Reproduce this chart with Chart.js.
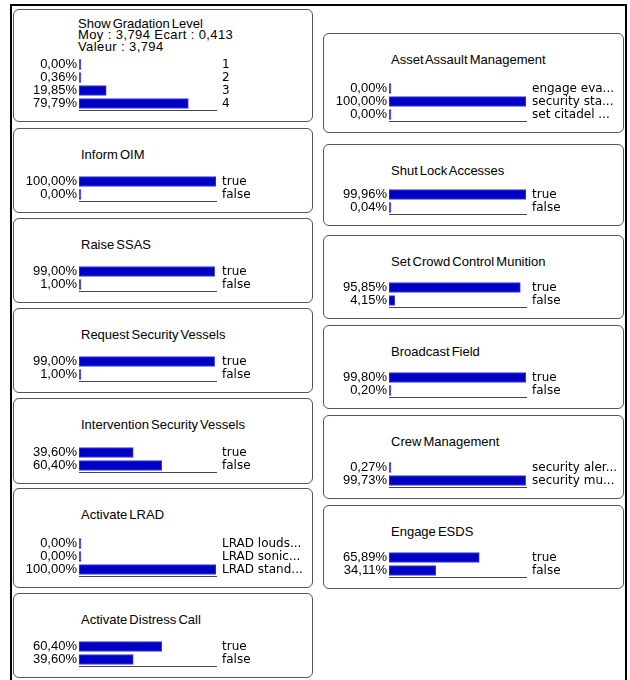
<!DOCTYPE html>
<html>
<head>
<meta charset="utf-8">
<script src="https://cdn.jsdelivr.net/npm/chart.js@4.4.0/dist/chart.umd.min.js"></script>
<style>
body{margin:0;background:#fff;width:630px;height:680px;overflow:hidden;position:relative;font-family:"Liberation Sans",Arial,sans-serif}
#frame{position:absolute;left:10px;top:4px;width:613px;height:700px;border:2px solid #000;border-bottom:none}
.panel{position:absolute;border:1px solid #555;border-radius:6px;box-sizing:border-box}
.title{position:absolute;font-size:13px;line-height:12px;word-spacing:-1.5px;white-space:nowrap;color:#000}
.info{word-spacing:0;letter-spacing:0.4px}
canvas{position:absolute}
</style>
</head>
<body>
<div id="frame"></div>
<script>
// node names, one per monitor
const titles = [
    "Show Gradation Level", "Inform OIM", "Raise SSAS", "Request Security Vessels",
    "Intervention Security Vessels", "Activate LRAD", "Activate Distress Call",
    "Asset Assault Management", "Shut Lock Accesses", "Set Crowd Control Munition",
    "Broadcast Field", "Crew Management", "Engage ESDS"
];

// states of each node (as shown, truncated)
const states = [
    ["1", "2", "3", "4"],
    ["true", "false"],
    ["true", "false"],
    ["true", "false"],
    ["true", "false"],
    ["LRAD louds...", "LRAD sonic...", "LRAD stand..."],
    ["true", "false"],
    ["engage eva...", "security sta...", "set citadel ..."],
    ["true", "false"],
    ["true", "false"],
    ["true", "false"],
    ["security aler...", "security mu..."],
    ["true", "false"]
];

// probabilities in %
const values = [
    [0.00, 0.36, 19.85, 79.79],
    [100.00, 0.00],
    [99.00, 1.00],
    [99.00, 1.00],
    [39.60, 60.40],
    [0.00, 0.00, 100.00],
    [60.40, 39.60],
    [0.00, 100.00, 0.00],
    [99.96, 0.04],
    [95.85, 4.15],
    [99.80, 0.20],
    [0.27, 99.73],
    [65.89, 34.11]
];

// extra lines under the first title
const gradationInfo = ["Moy : 3,794 Ecart : 0,413", "Valeur : 3,794"];

// panel boxes: x, y, w, h
const boxes = [
    [13, 9, 300, 113], [13, 128, 300, 85], [13, 218, 300, 85], [13, 308, 300, 85],
    [13, 398, 300, 86], [13, 488, 300, 100], [13, 593, 300, 85],
    [323, 33, 301, 100], [323, 144, 301, 82], [323, 235, 301, 84],
    [323, 325, 301, 84], [323, 415, 301, 84], [323, 505, 301, 84]
];

const ROW = 13, LEFTW = 64, PLOTW = 137, RIGHTW = 92;

function fmt(v){
    return v.toFixed(2).replace(".", ",") + "%";
}

// label half-heights would otherwise shrink the tiny plot area
function fixAxis(w){
    return function(s){
        s.width = w;
        s.paddingTop = 0;
        s.paddingBottom = 0;
    };
}

function addText(txt, x, y, cls){
    let t = document.createElement("div");
    t.className = cls;
    t.textContent = txt;
    t.style.left = x + "px";
    t.style.top = y + "px";
    document.body.appendChild(t);
}

titles.forEach(function(name, n){
    let b = boxes[n];
    let panel = document.createElement("div");
    panel.className = "panel";
    panel.style.left = b[0] + "px";
    panel.style.top = b[1] + "px";
    panel.style.width = b[2] + "px";
    panel.style.height = b[3] + "px";
    document.body.appendChild(panel);

    let barStart = b[0] + 66;
    if (n == 0) {
        addText(name, barStart - 1, b[1] + 9, "title");
        gradationInfo.forEach(function(line, k){
            addText(line, barStart - 1, b[1] + 20 + k * 11.5, "title info");
        });
    } else {
        addText(name, barStart + 2, b[1] + 21, "title");
    }

    let vals = values[n];
    let rows = vals.length;
    let baseline = b[1] + b[3] - 12;
    let cv = document.createElement("canvas");
    cv.width = LEFTW + PLOTW + RIGHTW;
    cv.height = rows * ROW + 2;
    cv.style.left = (barStart - LEFTW) + "px";
    cv.style.top = (baseline - rows * ROW) + "px";
    cv.style.width = cv.width + "px";
    cv.style.height = cv.height + "px";
    document.body.appendChild(cv);

    new Chart(cv, {
        type: "bar",
        data: {
            labels: states[n],
            datasets: [{
                data: vals,
                backgroundColor: "#0000c4",
                borderColor: "#3c3cdc",
                borderWidth: 1,
                borderSkipped: false,
                minBarLength: 2,
                barThickness: 10
            }]
        },
        options: {
            indexAxis: "y",
            responsive: false,
            animation: false,
            devicePixelRatio: 1,
            layout: { padding: 0 },
            plugins: { legend: { display: false }, tooltip: { enabled: false } },
            scales: {
                x: {
                    min: 0, max: 100,
                    grid: { display: false, drawTicks: false },
                    ticks: { display: false },
                    border: { display: true, color: "#444", width: 1 },
                    afterFit: function(s){ s.height = 2; s.paddingLeft = 0; s.paddingRight = 0; }
                },
                y: {
                    grid: { display: false, drawTicks: false },
                    border: { display: false },
                    ticks: {
                        autoSkip: false, padding: 2, color: "#000",
                        font: { family: "Liberation Sans", size: 13, lineHeight: 1 },
                        callback: function(v, i){ return fmt(vals[i]); }
                    },
                    afterFit: fixAxis(LEFTW)
                },
                y2: {
                    type: "category",
                    labels: states[n],
                    position: "right",
                    offset: true,
                    grid: { display: false, drawTicks: false },
                    border: { display: false },
                    ticks: {
                        autoSkip: false, padding: 6, color: "#000",
                        font: { family: "DejaVu Sans", size: 12, lineHeight: 1 }
                    },
                    afterFit: fixAxis(RIGHTW)
                }
            }
        }
    });
});
</script>
</body>
</html>
